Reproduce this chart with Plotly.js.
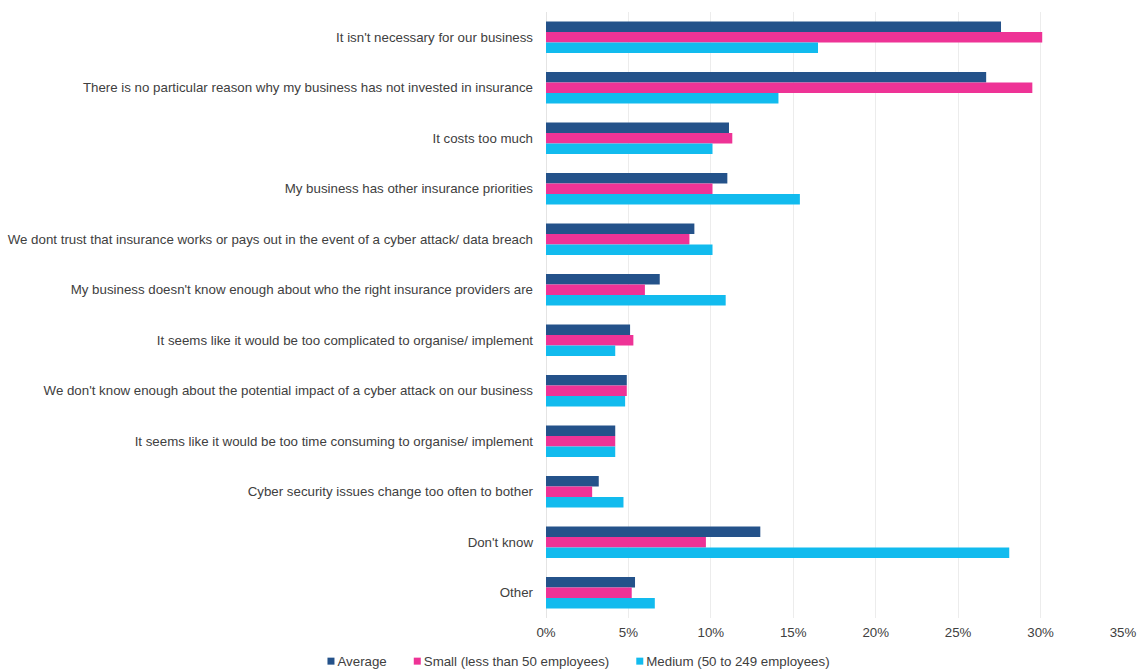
<!DOCTYPE html>
<html>
<head>
<meta charset="utf-8">
<script src="https://cdn.plot.ly/plotly-3.0.1.min.js"></script>
<style>
html,body{margin:0;padding:0;background:#fff;}
#chart{width:1139px;height:670px;}
</style>
</head>
<body>
<div id="chart"></div>
<script>
var categories = [
  "It isn't necessary for our business",
  "There is no particular reason why my business has not invested in insurance",
  "It costs too much",
  "My business has other insurance priorities",
  "We dont trust that insurance works or pays out in the event of a cyber attack/ data breach",
  "My business doesn't know enough about who the right insurance providers are",
  "It seems like it would be too complicated to organise/ implement",
  "We don't know enough about the potential impact of a cyber attack on our business",
  "It seems like it would be too time consuming to organise/ implement",
  "Cyber security issues change too often to bother",
  "Don't know",
  "Other"
];
var averageVals = [27.6, 26.7, 11.1, 11.0, 9.0, 6.9, 5.1, 4.9, 4.2, 3.2, 13.0, 5.4];
var smallVals   = [30.1, 29.5, 11.3, 10.1, 8.7, 6.0, 5.3, 4.9, 4.2, 2.8, 9.7, 5.2];
var mediumVals  = [16.5, 14.1, 10.1, 15.4, 10.1, 10.9, 4.2, 4.8, 4.2, 4.7, 28.1, 6.6];
var seriesNames = ["Average", "Small (less than 50 employees)", "Medium (50 to 249 employees)"];
var seriesColors = ["#24528A", "#EE3396", "#12BBEE"];
var xTickVals = [0, 5, 10, 15, 20, 25, 30, 35];
var xTickText = ["0%", "5%", "10%", "15%", "20%", "25%", "30%", "35%"];

var allVals = [averageVals, smallVals, mediumVals];
var traces = allVals.map(function(vals, i){
  return {
    type: 'bar',
    orientation: 'h',
    name: seriesNames[i],
    y: categories,
    x: vals,
    marker: {color: seriesColors[i], line: {width: 0}},
    hoverinfo: 'x+name'
  };
});

var layout = {
  width: 1139,
  height: 670,
  paper_bgcolor: '#ffffff',
  plot_bgcolor: '#ffffff',
  margin: {l: 546, r: 16, t: 11.5, b: 52.3, pad: 0, autoexpand: false},
  barmode: 'group',
  bargap: 0.38,
  bargroupgap: 0,
  font: {family: 'Liberation Sans, Arial, sans-serif', size: 13.3, color: '#404040'},
  xaxis: {
    range: [0, 35],
    tickvals: xTickVals,
    ticktext: xTickText,
    showgrid: true,
    gridcolor: '#ececec',
    gridwidth: 1,
    zeroline: true,
    zerolinecolor: '#e4e4e4',
    zerolinewidth: 1,
    showline: false,
    ticks: '',
    ticklabelstandoff: 5,
    tickfont: {size: 13.3, color: '#404040'},
    fixedrange: true
  },
  yaxis: {
    type: 'category',
    autorange: 'reversed',
    showgrid: false,
    zeroline: false,
    showline: false,
    ticks: '',
    ticklabelstandoff: 12,
    tickfont: {size: 13.3, color: '#404040'},
    fixedrange: true
  },
  showlegend: true,
  legend: {
    orientation: 'h',
    xref: 'container',
    yref: 'container',
    x: 0.507,
    xanchor: 'center',
    y: 0,
    yanchor: 'bottom',
    font: {size: 13.3, color: '#404040'},
    traceorder: 'normal',
    itemwidth: 30
  }
};

var gd = document.getElementById('chart');
Plotly.newPlot(gd, traces, layout, {displayModeBar: false, staticPlot: true}).then(function(){
  try {
    var items = gd.querySelectorAll('.legend g.traces');
    if (!items.length) return;
    var sym = 7, symTextGap = 3, itemGap = 27, yShift = 7, xShift = 4;
    var widths = [];
    items.forEach(function(t){
      var tx = t.querySelector('text.legendtext');
      widths.push(tx ? tx.getComputedTextLength() : 0);
    });
    var total = 0;
    widths.forEach(function(w, i){ total += sym + symTextGap + w + (i ? itemGap : 0); });
    var first = items[0];
    var m = /translate\(\s*([-\d.]+)[ ,]+([-\d.]+)/.exec(first.getAttribute('transform') || '');
    var baseX = m ? parseFloat(m[1]) : 0;
    var baseY = m ? parseFloat(m[2]) : 0;
    var lastItem = items[items.length - 1];
    var ml = /translate\(\s*([-\d.]+)/.exec(lastItem.getAttribute('transform') || '');
    var oldSpan = (ml ? parseFloat(ml[1]) : 0) - baseX + 40 + widths[widths.length - 1];
    var x = baseX + (oldSpan - total) / 2 + xShift;
    items.forEach(function(t, i){
      t.setAttribute('transform', 'translate(' + x + ',' + (baseY + yShift) + ')');
      var pts = t.querySelector('g.legendpoints');
      if (pts) {
        pts.querySelectorAll('path').forEach(function(p){
          p.setAttribute('d', 'M3.5,3.5H-3.5V-3.5H3.5Z');
          p.setAttribute('transform', 'translate(3.5,0)');
        });
      }
      var tx = t.querySelector('text.legendtext');
      if (tx) tx.setAttribute('x', sym + symTextGap);
      x += sym + symTextGap + widths[i] + itemGap;
    });
    var clip = gd.querySelector('.legend');
    if (clip) clip.removeAttribute('clip-path');
    var sb = gd.querySelector('.legend .scrollbox');
    if (sb) sb.removeAttribute('clip-path');
  } catch (e) {}
});
</script>
</body>
</html>
